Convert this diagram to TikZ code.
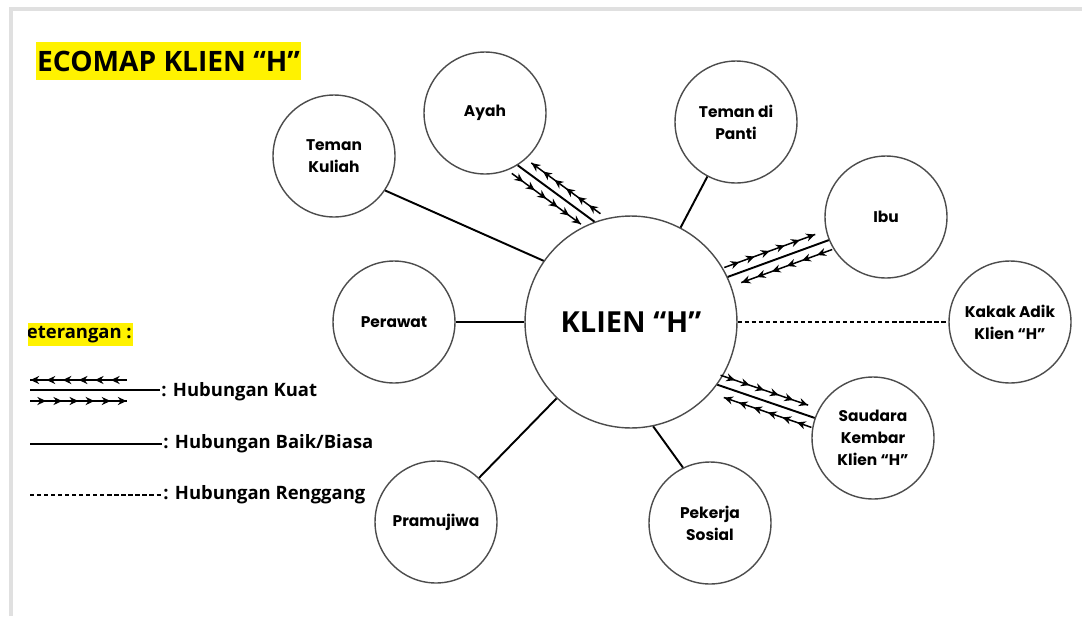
\documentclass[tikz,border=0pt]{standalone}
\usepackage{fontspec}
\setmainfont{Open Sans}
\newfontfamily\popfont{Poppins}
\usepackage{tikz}
\usetikzlibrary{calc,arrows.meta,decorations.markings}
\definecolor{stabilo}{RGB}{255,242,0}
\tikzset{lingkaran/.style={draw=black!70,circle,line width=0.8pt,minimum size=2.44cm,inner sep=0pt,align=center,font=\popfont\bfseries\fontsize{8.8}{12.5}\selectfont},
klienbox/.style={draw=black!70,circle,line width=0.8pt,minimum size=4.24cm,inner sep=0pt,font=\bfseries\fontsize{16.5}{19}\selectfont},
garis/.style={line width=1.1pt},
renggang/.style={line width=1pt,dash pattern=on 2.4pt off 1.6pt},
panah/.style={line width=0.85pt,decoration={markings,mark=between positions 0.166 and 1 step 0.166 with {\arrow{Stealth[length=5pt,width=4.6pt]}}},postaction=decorate},
sorot/.style={fill=stabilo,inner xsep=0.5pt,inner ysep=0pt},
legenda/.style={anchor=west,inner sep=0pt,font=\bfseries\fontsize{10.5}{12}\selectfont}}

\begin{document}
\begin{tikzpicture}[x=0.02cm,y=-0.02cm]
\useasboundingbox (0,0) rectangle (1082,616);
\draw[black!12,line width=2pt] (11,616) |- (1082,9);
\node[sorot,anchor=west,minimum height=0.76cm,font=\bfseries\fontsize{16}{19}\selectfont] (judul) at (36,61) {ECOMAP KLIEN “H”};
\node[klienbox] (klien) at (631,322) {KLIEN “H”};
\node[lingkaran] (ayah) at (485,113) {Ayah};
\node[lingkaran] (kuliah) at (334,156) {Teman\\Kuliah};
\node[lingkaran] (panti) at (736,122) {Teman di\\Panti};
\node[lingkaran] (ibu) at (886,217) {Ibu};
\node[lingkaran] (perawat) at (394,322) {Perawat};
\node[lingkaran] (kakak) at (1010,322) {Kakak Adik\\Klien “H”};
\node[lingkaran] (saudara) at (873,438) {Saudara\\Kembar\\Klien “H”};
\node[lingkaran] (pramujiwa) at (436,522) {Pramujiwa};
\node[lingkaran] (pekerja) at (710,523) {Pekerja\\Sosial};
\draw[garis] (kuliah.-34) -- (klien.145);
\draw[garis] (perawat) -- (klien);
\draw[garis] (pramujiwa) -- (klien);
\draw[garis] (klien.-78) -- (pekerja.116);
\draw[garis] (klien) -- (panti);
\draw[renggang] (klien) -- (kakak);
\draw[garis] (ayah.-58) -- (klien.110);
\draw[panah] ($(ayah.-58)!0!(klien.110)!.2cm!-90:(klien.110)$) -- ($(klien.110)!.1!(ayah.-58)!.2cm!90:(ayah.-58)$);
\draw[panah] ($(klien.110)!0!(ayah.-58)!.2cm!-90:(ayah.-58)$) -- ($(ayah.-58)!.1!(klien.110)!.2cm!90:(klien.110)$);
\draw[garis] (klien.25) -- (ibu.202);
\draw[panah] ($(klien.25)!0!(ibu.202)!.2cm!90:(ibu.202)$) -- ($(ibu.202)!.1!(klien.25)!.2cm!-90:(klien.25)$);
\draw[panah] ($(ibu.202)!0!(klien.25)!.2cm!90:(klien.25)$) -- ($(klien.25)!.1!(ibu.202)!.2cm!-90:(ibu.202)$);
\draw[garis] (klien.-36) -- (saudara.161);
\draw[panah] ($(klien.-36)!0!(saudara.161)!.2cm!90:(saudara.161)$) -- ($(saudara.161)!.1!(klien.-36)!.2cm!-90:(klien.-36)$);
\draw[panah] ($(saudara.161)!0!(klien.-36)!.2cm!90:(klien.-36)$) -- ($(klien.-36)!.1!(saudara.161)!.2cm!-90:(saudara.161)$);
\begin{scope}
\clip (28,300) rectangle (200,360);
\node[sorot,anchor=east,minimum height=0.46cm,font=\bfseries\fontsize{10.5}{12}\selectfont] (ket) at (133,334) {Keterangan :};
\end{scope}
\draw[panah] (127,380) -- (30,380);
\draw[garis] (30,390) -- (160,390);
\draw[panah] (30,401) -- (127,401);
\node[legenda] (kuat) at (161,392) {: Hubungan Kuat};
\draw[garis] (30,444) -- (162,444);
\node[legenda] (baik) at (163,444) {: Hubungan Baik/Biasa};
\draw[renggang] (30,495) -- (162,495);
\node[legenda] (jauh) at (163,495) {: Hubungan Renggang};
\end{tikzpicture}
\end{document}
